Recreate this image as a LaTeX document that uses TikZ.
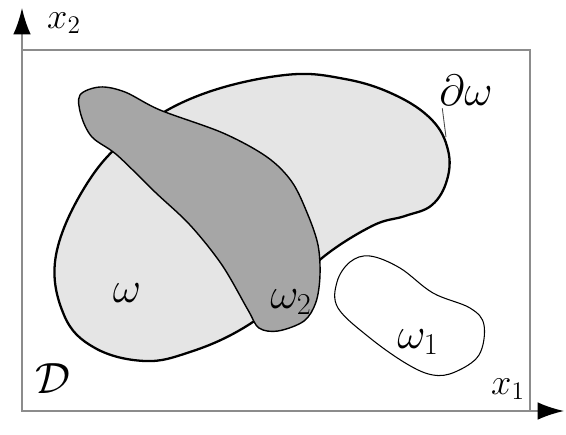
\documentclass[tikz,border=0pt]{standalone}
\usetikzlibrary{arrows.meta}
\begin{document}
\begin{tikzpicture}[x=0.02cm,y=-0.02cm,
    lbl/.style={inner sep=1pt,font=\fontsize{23}{27}\selectfont},
    axlbl/.style={inner sep=1pt,font=\fontsize{20}{24}\selectfont},
    frame/.style={draw=black!45,line width=1pt},
    axis/.style={black!45,line width=1pt,-{Latex[length=15pt,width=10pt,color=black]}}]
    \useasboundingbox (0,0) rectangle (566,434);
    % domain D and axes
    \draw[frame] (22,50) rectangle (530,411);
    \coordinate (o) at (22,411);
    \coordinate (e1) at (564,411);
    \coordinate (e2) at (22,8);
    \draw[axis] (o)--(e1);
    \draw[axis] (o)--(e2);
    % omega
    \draw[fill=black!10,line width=1.3pt] plot[smooth cycle,tension=0.65] coordinates {
        (56,255) (88,182) (135,132) (200,95) (285,75) (345,79) (395,95)
        (432,120) (448,150) (447,180) (432,205) (405,216) (372,226)
        (322,258) (285,297) (240,330) (190,352) (145,361) (95,348) (64,315)};
    % omega_2
    \draw[fill=black!35,line width=0.8pt] plot[smooth cycle,tension=0.55] coordinates {
        (80,95) (100,87) (125,92) (160,110) (223,133) (267,157) (292,182) (308,215)
        (318,245) (320,275) (316,302) (304,321) (278,331) (259,328) (248,310)
        (222,265) (190,225) (155,192) (117,155) (92,137) (81,115)};
    % omega_1
    \draw[fill=white,line width=0.6pt] plot[smooth cycle,tension=0.6] coordinates {
        (337,282) (350,262) (370,256) (400,268) (433,293) (470,308) (484,325)
        (479,355) (455,372) (433,375) (407,364) (370,338) (338,308)};
    % labels
    \node[axlbl] (x2) at (64,23) {$x_2$};
    \node[axlbl] (x1) at (508,389) {$x_1$};
    \node[lbl] (D) at (53,379) {$\mathcal{D}$};
    \node[lbl] (w) at (127,293) {$\omega$};
    \node[lbl] (w2) at (291,302) {$\omega_2$};
    \node[lbl] (w1) at (418,342) {$\omega_1$};
    \node[lbl] (dw) at (466,90) {$\partial\omega$};
    \coordinate (bnd) at (446,137);
    \draw[black!70,line width=0.5pt] (dw.south west)++(5,1)--(bnd);
\end{tikzpicture}
\end{document}
